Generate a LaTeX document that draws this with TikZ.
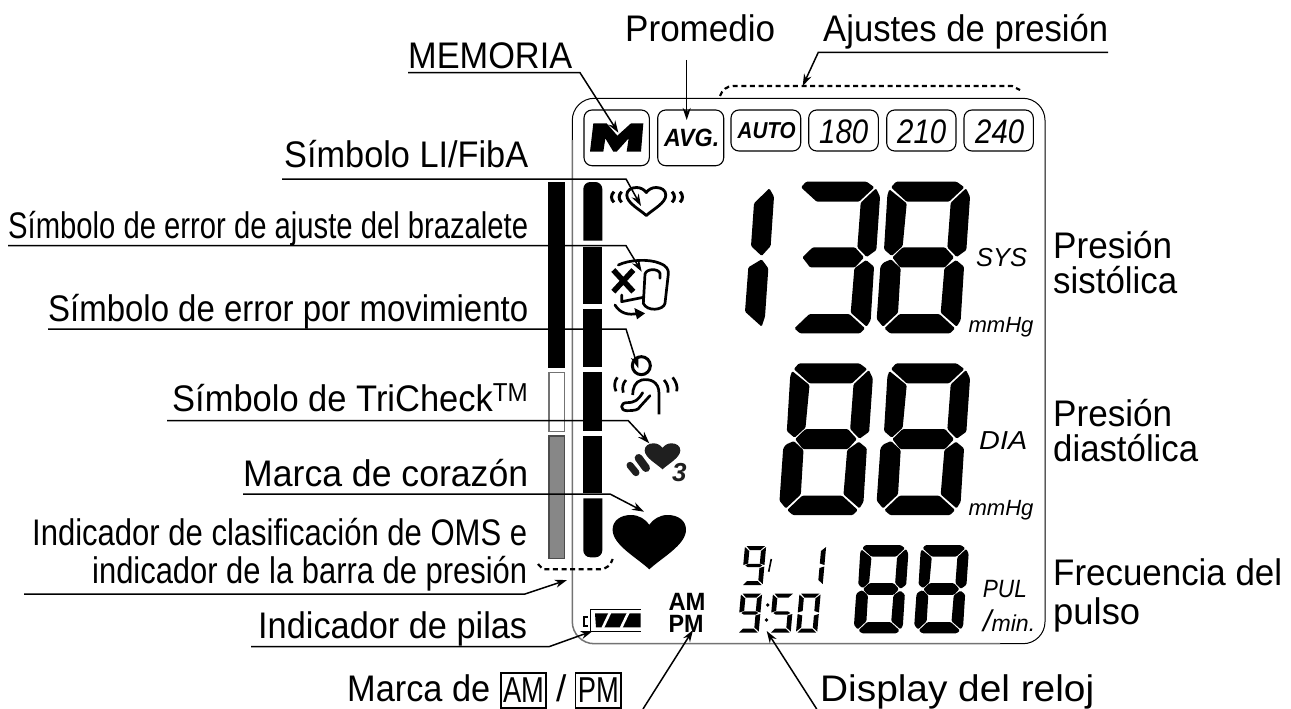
\documentclass[tikz,border=0pt]{standalone}
\usepackage{fontspec}
\usepackage{graphicx}
\setmainfont{Liberation Sans}
\usetikzlibrary{arrows.meta}
\newcommand{\fs}[1]{\fontsize{#1}{#1}\selectfont}
\newcommand{\fit}[2]{\resizebox{#1pt}{\height}{#2}}
% big seven-segment polygons (local units)
\newcommand{\dsA}{\fill (43,17)--(58,0)--(240,0)--(263,17)--(217,60)--(90,60)--cycle;}
\newcommand{\dsB}{\fill (268,20)--(280,45)--(269,205)--(240,226)--(212,197)--(222,63)--cycle;}
\newcommand{\dsF}{\fill (38,23)--(90,65)--(78,193)--(45,223)--(22,203)--(32,40)--cycle;}
\newcommand{\dsG}{\fill (47,227)--(78,197)--(205,197)--(232,227)--(205,257)--(70,257)--cycle;}
\newcommand{\dsE}{\fill (43,233)--(72,260)--(64,393)--(19,435)--(0,412)--(11,255)--(20,243)--cycle;}
\newcommand{\dsC}{\fill (238,235)--(262,255)--(252,415)--(240,435)--(192,393)--(203,260)--cycle;}
\newcommand{\dsD}{\fill (23,440)--(68,397)--(188,397)--(235,440)--(220,455)--(40,455)--cycle;}
\newcommand{\bigdigit}[4]{\begin{scope}[shift={(#1,#2)},scale=#3,rounded corners=1.2pt]\foreach \s in {#4}{\csname ds\s\endcsname}\end{scope}}
% thin seven-segment polygons
\newcommand{\tsA}{\fill (1,0)--(18.5,0)--(14.5,4)--(4.5,4)--cycle;}
\newcommand{\tsF}{\fill (-.5,1)--(4,5)--(4,17.5)--(-.5,19)--cycle;}
\newcommand{\tsB}{\fill (19.5,1)--(19.5,19)--(15,17.5)--(15,5)--cycle;}
\newcommand{\tsG}{\fill (1.5,19.5)--(4,17.8)--(15,17.8)--(17.5,19.5)--(15,21.2)--(4,21.2)--cycle;}
\newcommand{\tsE}{\fill (-.5,20.5)--(4,22)--(4,34)--(-.5,38)--cycle;}
\newcommand{\tsC}{\fill (19.5,20.5)--(19.5,38)--(15,34)--(15,22)--cycle;}
\newcommand{\tsD}{\fill (1,39)--(4.5,35)--(14.5,35)--(18.5,39)--cycle;}
\newcommand{\thindigit}[3]{\begin{scope}[shift={(#1,#2)},xslant=0.09,xscale=1.06]\foreach \s in {#3}{\csname ts\s\endcsname}\end{scope}}
\newcommand{\heartpath}{(0,1) .. controls (-.35,.78) and (-1,.55) .. (-1,.27) .. controls (-1,.1) and (-.78,0) .. (-.5,0) .. controls (-.28,0) and (-.1,.08) .. (0,.18) .. controls (.1,.08) and (.28,0) .. (.5,0) .. controls (.78,0) and (1,.1) .. (1,.27) .. controls (1,.55) and (.35,.78) .. (0,1) -- cycle}
\tikzset{
  lab/.style={anchor=base west,inner sep=0pt,font=\fs{37}},
  lcdbold/.style={anchor=base west,inner sep=0pt,font=\bfseries\itshape},
  lcdit/.style={anchor=base west,inner sep=0pt,font=\itshape},
  btn/.style={draw,line width=1.1pt,rounded corners=8pt},
  leader/.style={line width=1.5pt,-{Stealth[length=12pt,width=8pt]}},
  dashline/.style={line width=2.2pt,dash pattern=on 5pt off 3.6pt},
  icon/.style={line width=2.7pt,line cap=round,line join=round},
  ampm/.style={draw,line width=1.1pt,inner sep=0pt,minimum height=35pt,font=\fs{36}},
}
\begin{document}
\begin{tikzpicture}[x=1pt,y=-1pt]
\useasboundingbox (0,0) rectangle (1291,709);
\fill[white] (0,0) rectangle (1291,709);
% frame
\draw[rounded corners=22pt,line width=1pt] (572.3,140)--(572.3,98.3)--(1045,98.3)--(1045,643.7)--(1000,643.7);
\draw[rounded corners=22pt,line width=1.5pt,black!55] (572.3,140)--(572.3,643.7)--(1000,643.7);
% bars
\fill (548.3,182) rectangle (565,368.3);
\draw[black!55,line width=1.3pt,fill=white] (549,372.7) rectangle (564.3,431.7);
\draw[black!70,line width=1.3pt,fill=black!47] (549,436) rectangle (564.3,558.5);
\fill (583.3,240.7) [rounded corners=7pt] -- (583.3,182) -- (602.3,182) [sharp corners] -- (602.3,240.7) -- cycle;
\fill (583.3,246.7) rectangle (602.3,304);
\fill (583.3,309) rectangle (602.3,367.3);
\fill (583.3,372.3) rectangle (602.3,430.7);
\fill (583.3,435.7) rectangle (602.3,492.7);
\fill (583.3,498.3) [rounded corners=7pt] -- (583.3,557.3) -- (602.3,557.3) [sharp corners] -- (602.3,498.3) -- cycle;
% dashed brackets
\draw[dashline] (720,96) .. controls (722,90) and (727,86) .. (733,86) -- (1012,86) -- (1020,90);
\draw[dashline] (538,564) -- (543,569.3) -- (600,569.3) .. controls (606,569.3) and (611,565) .. (612.7,559);
% buttons
\draw[btn] (584,110) rectangle (649.3,165.7);
\draw[btn] (657.7,110) rectangle (723.7,165.7);
\draw[btn] (731,110) rectangle (800.7,151);
\draw[btn] (808.7,110) rectangle (878.3,151);
\draw[btn] (886.7,110) rectangle (956,151);
\draw[btn] (964,110) rectangle (1033.3,151);
\begin{scope}[shift={(580,105)},scale=1/3]
\fill (40,55)--(80,55)--(112,92)--(153,55)--(190,55)--(183,140)--(140,140)--(146,100)--(110,140)--(100,140)--(76,100)--(70,140)--(30,140)--cycle;
\end{scope}
\node[lcdbold,font=\bfseries\itshape\fs{25}] (avg) at (664,146.5) {\fit{55}{AVG.}};
\node[lcdbold,font=\bfseries\itshape\fs{23}] (auto) at (737.5,138.5) {\fit{58}{AUTO}};
\node[lcdit,font=\itshape\fs{34}] (n180) at (819,143) {\fit{49}{180}};
\node[lcdit,font=\itshape\fs{34}] (n210) at (897,143) {\fit{49}{210}};
\node[lcdit,font=\itshape\fs{34}] (n240) at (975,143) {\fit{49}{240}};
% big digits
\begin{scope}[shift={(730,170)},scale=1/3,rounded corners=1.2pt]
\fill (118,55)--(132,80)--(122,228)--(95,258)--(63,228)--(72,100)--cycle;
\fill (95,268)--(115,295)--(105,440)--(95,470)--(45,425)--(55,292)--cycle;
\end{scope}
\bigdigit{786.7}{181.7}{1/3}{A,B,G,C,D}
\bigdigit{876.7}{181.7}{1/3}{A,B,C,D,E,F,G}
\bigdigit{779.5}{363.4}{1/3}{A,B,C,D,E,F,G}
\bigdigit{876.7}{363.4}{1/3}{A,B,C,D,E,F,G}
\bigdigit{854}{545}{0.194}{A,B,C,D,E,F,G}
\bigdigit{914.3}{545}{0.194}{A,B,C,D,E,F,G}
% thin digits
\thindigit{745.5}{546}{A,B,C,D,F,G}
\thindigit{805.5}{546}{B,C}
\thindigit{741.5}{593.5}{A,B,C,D,F,G}
\thindigit{773.5}{593.5}{A,C,D,F,G}
\thindigit{800}{593.5}{A,B,C,D,E,F}
\draw[line width=1.6pt] (771.3,559) -- (768.7,571.7);
\fill (767.7,605) circle (1.8pt) (766.5,620) circle (1.8pt);
% unit labels
\node[lcdit,font=\itshape\fs{26}] (sys) at (976,266.7) {\fit{50.7}{SYS}};
\node[lcdit,font=\itshape\fs{22}] (mm1) at (968.3,332.7) {\fit{65}{mmHg}};
\node[lcdit,font=\itshape\fs{26}] (dia) at (979,449) {\fit{48}{DIA}};
\node[lcdit,font=\itshape\fs{22}] (mm2) at (968.3,515) {\fit{65}{mmHg}};
\node[lcdit,font=\itshape\fs{25}] (pul) at (982.7,597.7) {\fit{44}{PUL}};
\node[lcdit,font=\itshape\fs{23}] (min) at (983,631.7) {\fit{52}{{\fs{30}/}min.}};
% icons
\begin{scope}[shift={(646.3,187.5)},xscale=19.5,yscale=28]
\draw[line width=2.8pt,line join=round] \heartpath;
\end{scope}
\begin{scope}[shift={(540,0)},scale=1/3]
\draw[line width=3pt] (222,575) .. controls (212,585) and (212,598) .. (222,607);
\draw[line width=3pt] (245,575) .. controls (235,585) and (235,598) .. (245,607);
\draw[line width=3pt] (396,575) .. controls (406,585) and (406,598) .. (396,607);
\draw[line width=3pt] (420,575) .. controls (430,585) and (430,598) .. (420,607);
\end{scope}
\begin{scope}[shift={(605,250)},scale=1/3]
% cuff error
\draw[line width=5.5pt] (25,60)--(85,125) (85,60)--(25,125);
\draw[icon] (40,45) .. controls (70,30) and (130,25) .. (165,40) .. controls (185,48) and (191,58) .. (190,72) -- (180,160) .. controls (175,182) and (125,185) .. (115,160) -- (120,72) .. controls (125,55) and (160,55) .. (165,70) -- (165,85);
\draw[icon] (50,135) -- (50,155) -- (115,142);
\draw[icon] (30,165) .. controls (45,190) and (70,197) .. (100,190);
\fill (88,174) -- (120,190) -- (96,208) -- cycle;
\end{scope}
\begin{scope}[shift={(540,230)},scale=1/3]
% motion
\draw[line width=3pt] (304,407) circle (27);
\draw[icon,line cap=butt] (357,553) -- (357,490) .. controls (357,455) and (330,445) .. (305,450) .. controls (285,455) and (278,475) .. (278,495);
\draw[icon] (330,497) -- (300,530) .. controls (295,540) and (285,542) .. (260,542) .. controls (240,542) and (240,518) .. (260,518) .. controls (285,518) and (295,510) .. (308,488);
\draw[icon,line cap=butt] (232,442) .. controls (222,455) and (222,470) .. (228,484);
\draw[icon,line cap=butt] (258,450) .. controls (248,460) and (246,475) .. (250,488);
\draw[icon,line cap=butt] (372,450) .. controls (382,460) and (386,475) .. (384,488);
\draw[icon,line cap=butt] (398,442) .. controls (408,455) and (414,470) .. (410,484);
\end{scope}
% TriCheck
\begin{scope}[shift={(610,430)},scale=1/3]
\draw[line cap=round,line width=8pt,black!88] (86,84) -- (108,114);
\draw[line cap=round,line width=7pt,black!88] (60,106) -- (78,128);
\end{scope}
\begin{scope}[shift={(662.5,443.3)},xscale=17.8,yscale=26]
\fill[black!88] \heartpath;
\end{scope}
\node[lcdbold,font=\bfseries\itshape\fs{26},text=black!88] (three) at (672,481) {3};
\begin{scope}[shift={(649.3,515)},xscale=36.7,yscale=54.3]
\fill \heartpath;
\end{scope}
% battery
\begin{scope}[shift={(540,470)},scale=1/3]
\draw[line width=1.4pt] (302,418) -- (151,418) -- (151,484) -- (302,484);
\fill (165,430) -- (302,430) -- (302,472) -- (168,472) -- cycle;
\draw[white,line width=2.6pt] (188,474) -- (210,428) (243,474) -- (265,428);
\draw[line width=1.7pt] (143,441) -- (133,441) -- (133,467) -- (143,467);
\end{scope}
\node[lcdbold,font=\bfseries\fs{25}] (am) at (668.3,610) {\fit{37}{AM}};
\node[lcdbold,font=\bfseries\fs{25}] (pm) at (668.3,632.7) {\fit{35}{PM}};
% labels
\node[lab] (lmem) at (408,69) {\fit{164}{MEMORIA}};
\node[lab] (lavg) at (625,42) {\fit{150}{Promedio}};
\node[lab] (ladj) at (823,42) {\fit{285}{Ajustes de presión}};
\node[lab] (lli) at (284,167) {\fit{244}{Símbolo LI/FibA}};
\node[lab] (lcuff) at (8,238) {\fit{520}{Símbolo de error de ajuste del brazalete}};
\node[lab] (lmov) at (48,321) {\fit{480}{Símbolo de error por movimiento}};
\node[lab] (ltri) at (172,411) {\fit{356}{Símbolo de TriCheck\textsuperscript{TM}}};
\node[lab] (lheart) at (243,486) {\fit{285}{Marca de corazón}};
\node[lab] (lwho1) at (32,545) {\fit{495}{Indicador de clasificación de OMS e}};
\node[lab] (lwho2) at (92,583) {\fit{435}{indicador de la barra de presión}};
\node[lab] (lbat) at (258,638) {\fit{269}{Indicador de pilas}};
\node[lab] (lmar) at (347,701) {\fit{143}{Marca de}};
\node[ampm,minimum width=45pt] (bam) at (523.5,690.5) {\fit{41}{AM}};
\node[lab] (lsl) at (556,701) {/};
\node[ampm,minimum width=45.3pt] (bpm) at (598.3,690.5) {\fit{41}{PM}};
\node[lab] (lclk) at (820,701) {\fit{274}{Display del reloj}};
\node[lab] (rs1) at (1053,258) {\fit{119}{Presión}};
\node[lab] (rs2) at (1053,293) {\fit{124}{sistólica}};
\node[lab] (rd1) at (1053,426) {\fit{119}{Presión}};
\node[lab] (rd2) at (1053,461) {\fit{145}{diastólica}};
\node[lab] (rp1) at (1053,585) {\fit{229}{Frecuencia del}};
\node[lab] (rp2) at (1053,624) {\fit{87}{pulso}};
% connector points
\coordinate (a1) at (408,72.7); \coordinate (a2) at (580,72.7); \coordinate (a3) at (618.3,132.7);
\coordinate (b1) at (686.7,60); \coordinate (b3) at (686.7,120);
\coordinate (c1) at (1108,52.3); \coordinate (c2) at (818.3,52.3); \coordinate (c3) at (802.7,86);
\coordinate (d1) at (282,179); \coordinate (d2) at (626,179); \coordinate (d3) at (641,206);
\coordinate (e1) at (8,245.7); \coordinate (e2) at (626,245.7); \coordinate (e3) at (641.7,271.7);
\coordinate (f1) at (48,329); \coordinate (f2) at (626,329); \coordinate (f3) at (638.3,368.3);
\coordinate (g1) at (167,420.7); \coordinate (g2) at (628.3,420.7); \coordinate (g3) at (649.3,443.3);
\coordinate (h1) at (243,494); \coordinate (h2) at (610,494); \coordinate (h3) at (644,511.7);
\coordinate (i1) at (24,594); \coordinate (i2) at (525,594); \coordinate (i3) at (567,580);
\coordinate (j1) at (251,646.7); \coordinate (j2) at (549,646.7); \coordinate (j3) at (592.7,631);
\coordinate (k1) at (643,709); \coordinate (k3) at (693,630);
\coordinate (l1) at (816.7,709); \coordinate (l3) at (766.7,631);
\draw[leader] (a1)--(a2)--(a3);
\draw[leader] (b1)--(b3);
\draw[leader] (c1)--(c2)--(c3);
\draw[leader] (d1)--(d2)--(d3);
\draw[leader] (e1)--(e2)--(e3);
\draw[leader] (f1)--(f2)--(f3);
\draw[leader] (g1)--(g2)--(g3);
\draw[leader] (h1)--(h2)--(h3);
\draw[leader] (i1)--(i2)--(i3);
\draw[leader] (j1)--(j2)--(j3);
\draw[leader] (k1)--(k3);
\draw[leader] (l1)--(l3);
\end{tikzpicture}
\end{document}
